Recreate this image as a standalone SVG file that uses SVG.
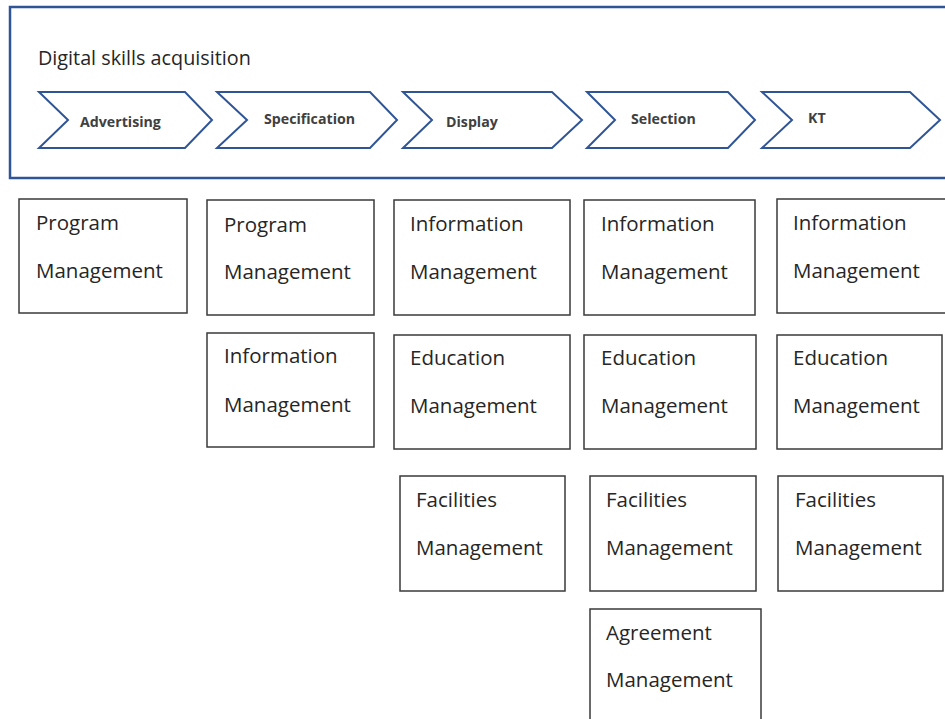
<svg xmlns="http://www.w3.org/2000/svg" width="945" height="719" viewBox="0 0 945 719">
<style>
.frame{fill:none;stroke:#2F5597;stroke-width:2.5}
.chev{fill:#fff;stroke:#2F5597;stroke-width:2;stroke-linejoin:miter}
.box{fill:#fff;stroke:#3a3a3a;stroke-width:1.5}
.t{font-family:"Open Sans","Noto Sans","Liberation Sans",sans-serif;font-size:20.5px;fill:#262626}
.title{font-family:"Open Sans","Noto Sans","Liberation Sans",sans-serif;font-size:19.8px;fill:#262626}
.cl{font-family:"Open Sans","Noto Sans","Liberation Sans",sans-serif;font-size:14.2px;font-weight:bold;fill:#404040}
</style>
<rect width="945" height="719" fill="#fff"/>
<g id="frame">
<rect class="frame" x="10" y="7" width="945" height="171"/>
<text class="title" x="38" y="65">Digital skills acquisition</text>
</g>
<g id="stage-advertising">
<polygon class="chev" points="39,92 185,92 212,120 185,148 39,148 68,120"/>
<text class="cl" x="80" y="127">Advertising</text>
</g>
<g id="stage-specification">
<polygon class="chev" points="217,92 370,92 397,120 370,148 217,148 247,120"/>
<text class="cl" x="264" y="124">Specification</text>
</g>
<g id="stage-display">
<polygon class="chev" points="403,92 552,92 582,120 552,148 403,148 432,120"/>
<text class="cl" x="446" y="127">Display</text>
</g>
<g id="stage-selection">
<polygon class="chev" points="587,92 728,92 755,120 728,148 587,148 615,120"/>
<text class="cl" x="631" y="124">Selection</text>
</g>
<g id="stage-kt">
<polygon class="chev" points="762,92 910,92 940,120 910,148 762,148 792,120"/>
<text class="cl" x="808" y="123">KT</text>
</g>
<g id="connectors"></g>
<g id="c1-program">
<rect class="box" x="19" y="199" width="168" height="114"/>
<text class="t" x="36" y="230">Program</text>
<text class="t" x="36" y="278">Management</text>
</g>
<g id="c2-program">
<rect class="box" x="207" y="200" width="167" height="115"/>
<text class="t" x="224" y="232">Program</text>
<text class="t" x="224" y="279">Management</text>
</g>
<g id="c2-information">
<rect class="box" x="207" y="333" width="167" height="114"/>
<text class="t" x="224" y="363">Information</text>
<text class="t" x="224" y="412">Management</text>
</g>
<g id="c3-information">
<rect class="box" x="394" y="200" width="176" height="115"/>
<text class="t" x="410" y="231">Information</text>
<text class="t" x="410" y="279">Management</text>
</g>
<g id="c3-education">
<rect class="box" x="394" y="335" width="176" height="114"/>
<text class="t" x="410" y="365">Education</text>
<text class="t" x="410" y="413">Management</text>
</g>
<g id="c3-facilities">
<rect class="box" x="400" y="476" width="165" height="115"/>
<text class="t" x="416" y="507">Facilities</text>
<text class="t" x="416" y="555">Management</text>
</g>
<g id="c4-information">
<rect class="box" x="584" y="200" width="171" height="115"/>
<text class="t" x="601" y="231">Information</text>
<text class="t" x="601" y="279">Management</text>
</g>
<g id="c4-education">
<rect class="box" x="584" y="335" width="172" height="114"/>
<text class="t" x="601" y="365">Education</text>
<text class="t" x="601" y="413">Management</text>
</g>
<g id="c4-facilities">
<rect class="box" x="590" y="476" width="166" height="115"/>
<text class="t" x="606" y="507">Facilities</text>
<text class="t" x="606" y="555">Management</text>
</g>
<g id="c4-agreement">
<rect class="box" x="590" y="609" width="171" height="120"/>
<text class="t" x="606" y="640">Agreement</text>
<text class="t" x="606" y="687">Management</text>
</g>
<g id="c5-information">
<rect class="box" x="777" y="199" width="180" height="114"/>
<text class="t" x="793" y="230">Information</text>
<text class="t" x="793" y="278">Management</text>
</g>
<g id="c5-education">
<rect class="box" x="777" y="335" width="165" height="114"/>
<text class="t" x="793" y="365">Education</text>
<text class="t" x="793" y="413">Management</text>
</g>
<g id="c5-facilities">
<rect class="box" x="778" y="476" width="165" height="115"/>
<text class="t" x="795" y="507">Facilities</text>
<text class="t" x="795" y="555">Management</text>
</g>
</svg>
